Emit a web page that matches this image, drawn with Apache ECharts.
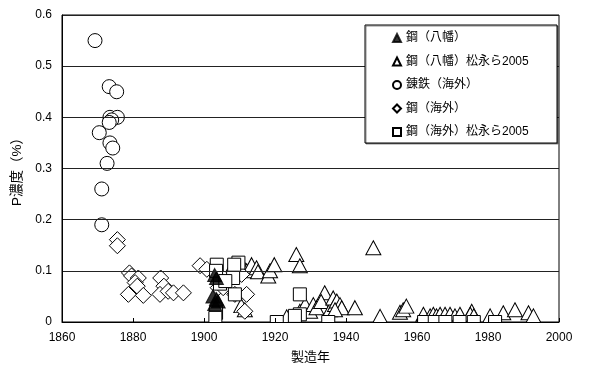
<!DOCTYPE html>
<html>
<head>
<meta charset="utf-8">
<script src="https://cdn.jsdelivr.net/npm/echarts@6/dist/echarts.min.js"></script>
<style>
  html, body { margin: 0; padding: 0; background: #fff; }
  #chart { width: 598px; height: 379px; }
</style>
</head>
<body>
<div id="chart"></div>
<script>
// Axis setup
const xTicks = [1860, 1880, 1900, 1920, 1940, 1960, 1980, 2000];
const yTicks = [0, 0.1, 0.2, 0.3, 0.4, 0.5, 0.6];

// Series names
const seriesNames = ['鋼（八幡）', '鋼（八幡）松永ら2005', '錬鉄（海外）', '鋼（海外）', '鋼（海外）松永ら2005'];

// [year, P %]
const steelYawata = [
  [1903, 0.092], [1903.5, 0.086], [1902.5, 0.050], [1903.5, 0.045], [1904, 0.040], [1903, 0.035]
];

const steelYawata2005 = [
  [1908.3, 0.112], [1911, 0.109], [1912, 0.100], [1913.4, 0.112], [1914.8, 0.106], [1915.2, 0.098],
  [1918.1, 0.090], [1918.6, 0.100], [1919.8, 0.112], [1926, 0.132], [1927, 0.110], [1911.5, 0.024],
  [1910.5, 0.032], [1923.3, 0.010], [1947.7, 0.145],
  [1927, 0.021], [1928.5, 0.034], [1929.9, 0.021], [1930.8, 0.034], [1931.7, 0.028], [1934, 0.057],
  [1933, 0.040], [1935.5, 0.024], [1936.4, 0.047], [1936.9, 0.034], [1937.4, 0.041], [1938.3, 0.034],
  [1938.8, 0.028], [1936.9, 0.024], [1942.5, 0.028], [1949.6, 0.011], [1955.2, 0.019], [1956.1, 0.024],
  [1957, 0.031], [1961.8, 0.015], [1963.7, 0.012], [1964.6, 0.015], [1965.5, 0.012], [1966.5, 0.015],
  [1967.9, 0.015], [1969.3, 0.015], [1970.7, 0.012], [1972.1, 0.015], [1975.4, 0.021], [1975, 0.015],
  [1976, 0.012], [1980.6, 0.012], [1984.3, 0.018], [1987.6, 0.024], [1991.4, 0.018], [1992.8, 0.012]
];

const wroughtIronForeign = [
  [1869.3, 0.55], [1873.3, 0.46], [1875.4, 0.45], [1873.5, 0.40], [1875.6, 0.40], [1874, 0.395],
  [1873.3, 0.39], [1870.5, 0.37], [1873.5, 0.35], [1874.3, 0.34], [1872.7, 0.31], [1871.2, 0.26],
  [1871.2, 0.19]
];

const steelForeign = [
  [1875.6, 0.161], [1875.6, 0.149], [1879, 0.096], [1879.6, 0.090], [1881.5, 0.086], [1880.6, 0.077],
  [1881.2, 0.070], [1878.7, 0.054], [1882.9, 0.052], [1887.8, 0.086], [1888.7, 0.070], [1887.6, 0.054],
  [1889.9, 0.060], [1891.4, 0.057], [1894.2, 0.057], [1898.9, 0.110], [1900.8, 0.103], [1904, 0.067],
  [1905.4, 0.067], [1908.7, 0.054], [1912, 0.054], [1911.5, 0.021], [1910.6, 0.093]
];

const steelForeign2005 = [
  [1903.6, 0.112], [1903.4, 0.100], [1904.5, 0.075], [1903.4, 0.018], [1903.2, 0.008], [1908.2, 0.086],
  [1909.7, 0.116], [1908.5, 0.112], [1908.7, 0.054], [1906, 0.080], [1927, 0.054], [1927, 0.015],
  [1925.6, 0.012], [1920.5, 0], [1935, 0], [1962, 0], [1965, 0], [1968, 0],
  [1972, 0], [1976, 0], [1982, 0]
];

const FONT = '"Liberation Sans", "Noto Sans CJK JP", sans-serif';
const openStyle = { color: '#fff', borderColor: '#000', borderWidth: 1, opacity: 1 };

const GRID = { left: 62, right: 39, top: 15, bottom: 57 };
const W = 598, H = 379;

const chart = echarts.init(document.getElementById('chart'), null, { renderer: 'canvas' });

function mk(name, data, symbol, size, style, z) {
  return {
    name: name,
    type: 'scatter',
    data: data,
    symbol: symbol,
    symbolSize: size,
    itemStyle: style,
    emphasis: { disabled: true },
    z: z
  };
}

chart.setOption({
  animation: false,
  textStyle: { fontFamily: FONT, color: '#000' },
  grid: Object.assign({ show: true, borderColor: '#000', borderWidth: 1, backgroundColor: 'transparent' }, GRID),
  xAxis: {
    type: 'value',
    min: xTicks[0], max: xTicks[xTicks.length - 1], interval: 20,
    name: '製造年', nameLocation: 'middle', nameGap: 29,
    nameTextStyle: { fontSize: 13, color: '#000', fontFamily: FONT },
    axisLine: { lineStyle: { color: '#000', width: 1 } },
    axisTick: { inside: true, length: 4, lineStyle: { color: '#000' } },
    axisLabel: { fontSize: 12, color: '#000', margin: 10, fontFamily: FONT, formatter: v => String(v) },
    splitLine: { show: false },
    z: 4
  },
  yAxis: {
    type: 'value',
    min: yTicks[0], max: yTicks[yTicks.length - 1], interval: 0.1,
    name: 'P濃度（%）', nameLocation: 'middle', nameGap: 36, nameRotate: 90,
    nameTextStyle: { fontSize: 13.5, color: '#000', fontFamily: FONT },
    axisLine: { show: true, lineStyle: { color: '#000', width: 1 } },
    axisTick: { show: false },
    axisLabel: {
      fontSize: 12, color: '#000', margin: 10, fontFamily: FONT,
      formatter: v => String(Math.round(v * 10) / 10)
    },
    splitLine: { show: true, lineStyle: { color: '#222', width: 1 } },
    z: 4
  },
  graphic: [
    // keeps marks inside the plotting area along the bottom edge
    {
      type: 'rect', z: 3, silent: true,
      shape: { x: GRID.left - 8, y: H - GRID.bottom + 1, width: W - GRID.left - GRID.right + 16, height: 9 },
      style: { fill: '#fff' }
    },
    {
      type: 'rect', z: 5,
      shape: { x: 365, y: 25, width: 192, height: 118 },
      style: { fill: '#fff', stroke: '#000', lineWidth: 1, shadowColor: 'rgba(0,0,0,0.45)', shadowOffsetX: 1, shadowOffsetY: 1, shadowBlur: 0 }
    }
  ],
  legend: {
    z: 6,
    orient: 'vertical',
    left: 365, top: 25,
    padding: [7, 8, 5, 27],
    itemGap: 11.5,
    itemWidth: 8, itemHeight: 8,
    textStyle: { fontSize: 12, color: '#000', fontFamily: FONT },
    data: seriesNames.map(n => ({ name: n }))
  },
  series: [
    mk(seriesNames[0], steelYawata, 'triangle', [14, 13], { color: '#000', borderColor: '#000', borderWidth: 1 }, 2.5),
    mk(seriesNames[1], steelYawata2005, 'triangle', [15, 14], openStyle, 2),
    mk(seriesNames[2], wroughtIronForeign, 'circle', 14, openStyle, 2),
    mk(seriesNames[3], steelForeign, 'diamond', 16, openStyle, 2),
    mk(seriesNames[4], steelForeign2005, 'rect', 13, openStyle, 2)
  ]
});
</script>
</body>
</html>
